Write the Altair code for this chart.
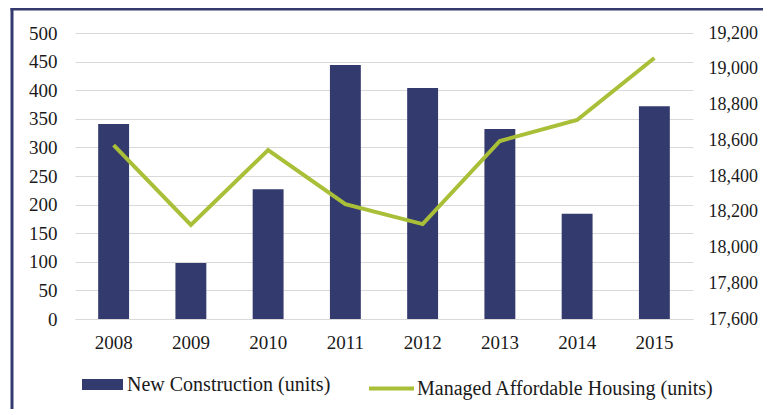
import altair as alt
import pandas as pd

years = ["2008", "2009", "2010", "2011", "2012", "2013", "2014", "2015"]
new_construction = [341, 98, 227, 444, 404, 332, 184, 372]
managed_affordable = [18573, 18126, 18545, 18243, 18131, 18596, 18713, 19060]
left_ticks = [0, 50, 100, 150, 200, 250, 300, 350, 400, 450, 500]
right_ticks = [17600, 17800, 18000, 18200, 18400, 18600, 18800, 19000, 19200]
bar_name = "New Construction (units)"
line_name = "Managed Affordable Housing (units)"

df = pd.DataFrame({
    "year": years,
    "nc": new_construction,
    "mah": managed_affordable,
    "bar_series": [bar_name] * len(years),
    "line_series": [line_name] * len(years),
})

FONT = "Liberation Serif"
NAVY = "#333a6e"
GREEN = "#a9bf38"
TXT = "#1a1a1a"
FS = 19
LFS = 20

x = alt.X("year:O", title=None, sort=years,
          scale=alt.Scale(paddingInner=0.6, paddingOuter=0.3),
          axis=alt.Axis(labelAngle=0, ticks=False, domain=True, domainColor="#d9d9d9",
                        labelPadding=14, labelFontSize=FS, labelFont=FONT,
                        labelColor=TXT))

bars = alt.Chart(df).mark_bar(color=NAVY).encode(
    x=x,
    y=alt.Y("nc:Q", title=None, scale=alt.Scale(domain=[0, 500], nice=False),
            axis=alt.Axis(values=left_ticks, grid=True, ticks=False, domain=False,
                          labelPadding=18, orient="left", labelFontSize=FS,
                          labelFont=FONT, labelColor=TXT)),
    color=alt.Color("bar_series:N", scale=alt.Scale(domain=[bar_name], range=[NAVY]),
                    legend=alt.Legend(title=None, orient="none", legendX=7, legendY=331,
                                      symbolType="M-1,-0.27L1,-0.27L1,0.27L-1,0.27Z",
                                      symbolSize=1681, symbolStrokeWidth=0,
                                      labelOffset=4, labelFontSize=LFS,
                                      labelFont=FONT, labelColor=TXT)),
)

line = alt.Chart(df).mark_line(strokeWidth=4).encode(
    x=x,
    y=alt.Y("mah:Q", title=None, scale=alt.Scale(domain=[17600, 19200], nice=False),
            axis=alt.Axis(values=right_ticks, grid=False, ticks=False, domain=False,
                          format=",.0f", labelPadding=15, orient="right",
                          labelFontSize=18, labelFont=FONT, labelColor=TXT)),
    stroke=alt.Stroke("line_series:N", scale=alt.Scale(domain=[line_name], range=[GREEN]),
                      legend=alt.Legend(title=None, orient="none", legendX=292, legendY=331,
                                        symbolType="stroke", symbolSize=2025,
                                        symbolStrokeWidth=4, labelOffset=1,
                                        labelFontSize=LFS, labelFont=FONT,
                                        labelColor=TXT)),
)

border_df = pd.DataFrame({"k": [0]})
left_border = alt.Chart(border_df).mark_rule(color=NAVY, strokeWidth=3).encode(
    x=alt.value(-63), y=alt.value(-25), y2=alt.value(400))
top_border = alt.Chart(border_df).mark_rule(color=NAVY, strokeWidth=3).encode(
    y=alt.value(-24), x=alt.value(-64.5), x2=alt.value(720))

chart = alt.layer(bars, line, left_border, top_border).resolve_scale(
    y="independent", color="independent", stroke="independent"
).properties(
    width=618, height=286,
    autosize=alt.AutoSizeParams(type="none"),
    padding={"left": 67, "top": 25, "right": 70, "bottom": 90},
).configure_view(stroke=None).configure_axis(
    gridColor="#d9d9d9", gridWidth=1,
).configure_legend(
    padding=0, labelLimit=500,
)

chart.save("out.html", embed_options={"renderer": "svg", "actions": False})
